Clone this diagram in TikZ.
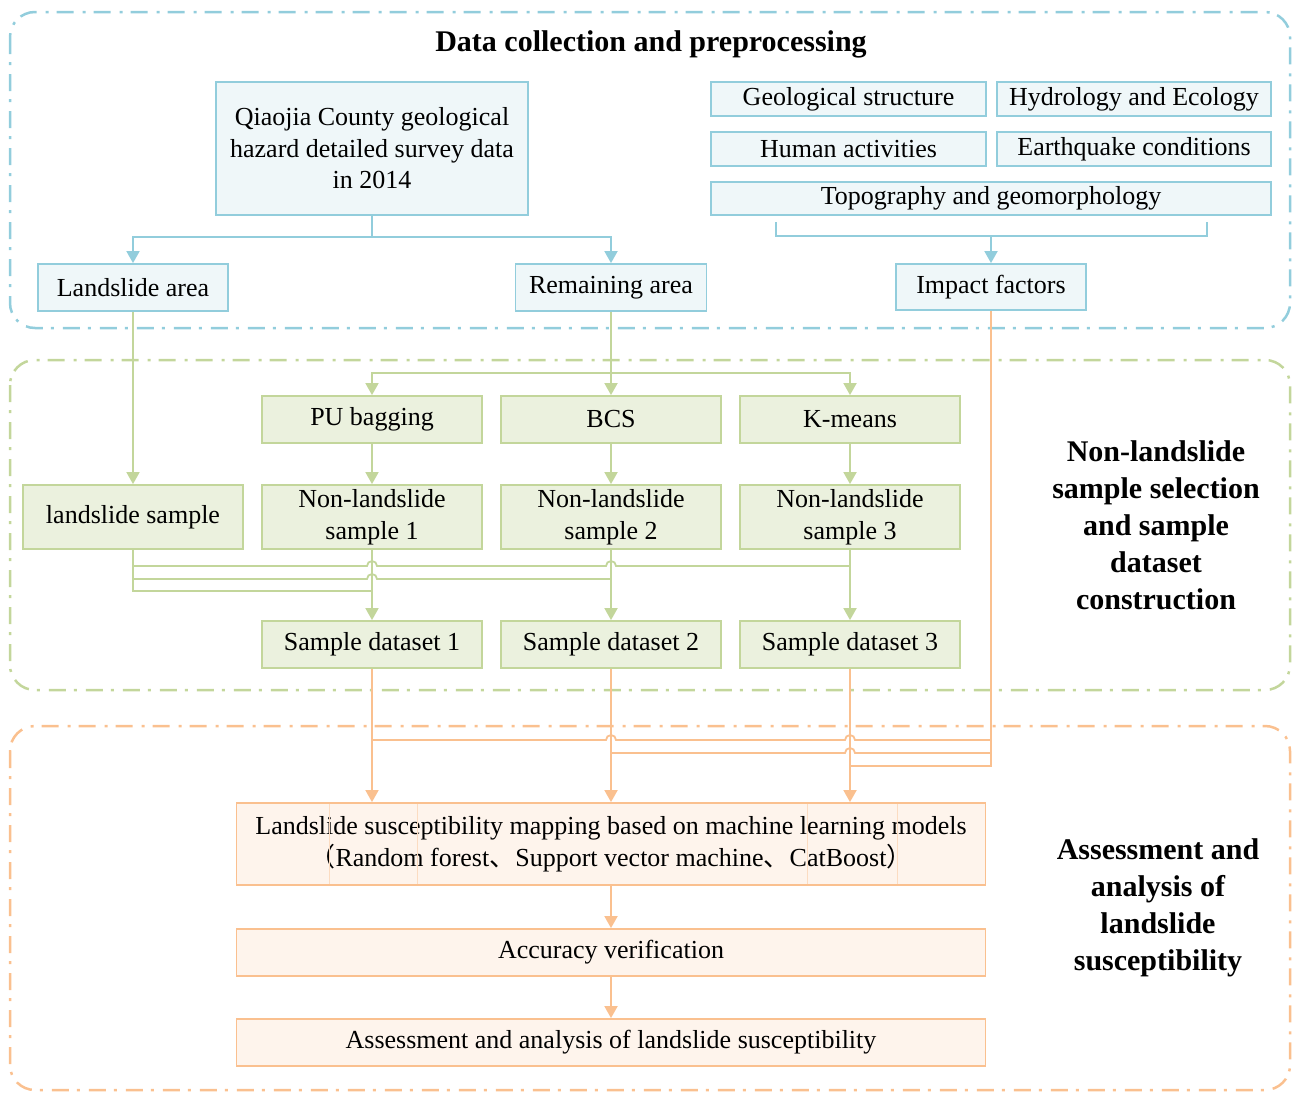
\documentclass[tikz,border=0pt]{standalone}
\usepackage{fontspec}
\setmainfont{Liberation Serif}
\newfontfamily\cjk{Noto Sans CJK SC}
\usepackage{tikz}
\usetikzlibrary{arrows.meta}
\definecolor{bdraw}{RGB}{146,205,220}
\definecolor{bfill}{RGB}{239,247,249}
\definecolor{gdraw}{RGB}{195,214,155}
\definecolor{gfill}{RGB}{235,241,222}
\definecolor{odraw}{RGB}{250,192,143}
\definecolor{ofill}{RGB}{254,244,236}

\begin{document}
\begin{tikzpicture}[x=1pt, y=-1pt,
        box/.style={draw, line width=1.8pt, inner sep=0pt, align=center, font=\fontsize{26}{31.5}\selectfont},
        bbox/.style={box, draw=bdraw, fill=bfill},
        gbox/.style={box, draw=gdraw, fill=gfill},
        obox/.style={box, draw=odraw, fill=ofill},
        frame/.style={line width=2.5pt, rounded corners=25pt, dash pattern=on 17pt off 8pt on 3pt off 9pt},
        head/.style={font=\fontsize{30}{37}\selectfont\bfseries, align=center},
        tip/.style={-{Triangle[width=13pt,length=12pt]}},
        bline/.style={draw=bdraw, line width=1.8pt},
        gline/.style={draw=gdraw, line width=1.8pt},
        oline/.style={draw=odraw, line width=1.8pt}]
    \useasboundingbox (0,0) rectangle (1295,1092);

    \draw[frame, draw=bdraw] (10,12) rectangle (1290,328);
    \draw[frame, draw=gdraw] (10,360) rectangle (1290,690);
    \draw[frame, draw=odraw] (10,726) rectangle (1290,1090);

    \node[head] (title) at (651,44) {Data collection and preprocessing};
    \node[head] (selhead) at (1156,525) {Non-landslide\\sample selection\\and sample\\dataset\\construction};
    \node[head] (asshead) at (1158,908) {Assessment and\\analysis of\\landslide\\susceptibility};

    \node[bbox, minimum width=312pt, minimum height=133pt] (qiaojia) at (372,148.5) {Qiaojia County geological\\hazard detailed survey data\\in 2014};
    \node[bbox, minimum width=275pt, minimum height=34pt] (geo) at (848.5,99) {Geological structure};
    \node[bbox, minimum width=274pt, minimum height=34pt] (hydro) at (1134,99) {Hydrology and Ecology};
    \node[bbox, minimum width=275pt, minimum height=34pt] (human) at (848.5,149) {Human activities};
    \node[bbox, minimum width=274pt, minimum height=34pt] (quake) at (1134,149) {Earthquake conditions};
    \node[bbox, minimum width=560pt, minimum height=33pt] (topo) at (991,198.5) {Topography and geomorphology};
    \node[bbox, minimum width=190pt, minimum height=47pt] (lsarea) at (133,287.5) {Landslide area};
    \node[bbox, minimum width=191pt, minimum height=47pt] (remarea) at (611,287.5) {Remaining area};
    \node[bbox, minimum width=190pt, minimum height=46pt] (impact) at (991,287) {Impact factors};

    \node[gbox, minimum width=220pt, minimum height=47pt] (pubag) at (372,419.5) {PU bagging};
    \node[gbox, minimum width=220pt, minimum height=47pt] (bcs) at (611,419.5) {BCS};
    \node[gbox, minimum width=220pt, minimum height=47pt] (kmeans) at (850,419.5) {K-means};
    \node[gbox, minimum width=220pt, minimum height=64pt] (lssample) at (133,517) {landslide sample};
    \node[gbox, minimum width=220pt, minimum height=64pt] (nls1) at (372,517) {Non-landslide\\sample 1};
    \node[gbox, minimum width=220pt, minimum height=64pt] (nls2) at (611,517) {Non-landslide\\sample 2};
    \node[gbox, minimum width=220pt, minimum height=64pt] (nls3) at (850,517) {Non-landslide\\sample 3};
    \node[gbox, minimum width=220pt, minimum height=47pt] (sds1) at (372,644.5) {Sample dataset 1};
    \node[gbox, minimum width=220pt, minimum height=47pt] (sds2) at (611,644.5) {Sample dataset 2};
    \node[gbox, minimum width=220pt, minimum height=47pt] (sds3) at (850,644.5) {Sample dataset 3};

    \node[obox, minimum width=749pt, minimum height=82pt] (lsm) at (611,844) {Landslide susceptibility mapping based on machine learning models\\{\cjk （}Random forest{\cjk 、}Support vector machine{\cjk 、}CatBoost{\cjk ）}};
    \node[obox, minimum width=749pt, minimum height=47pt] (accuracy) at (611,952.5) {Accuracy verification};
    \node[obox, minimum width=749pt, minimum height=47pt] (assess) at (611,1042.5) {Assessment and analysis of landslide susceptibility};
    \foreach \sx in {329,417,807,897}
        \draw[draw=odraw!55, line width=0.8pt] (\sx,804) -- (\sx,884);

    \draw[bline, tip] (qiaojia.south) -- ++(0,21) -| (lsarea.north);
    \draw[bline, tip] (qiaojia.south) -- ++(0,21) -| (remarea.north);
    \draw[bline] (776,222) -- (776,236) -- (1207,236) -- (1207,222);
    \draw[bline, tip] (impact.north |- 0,236) -- (impact.north);

    \draw[gline, tip] (lsarea.south) -- (lssample.north);
    \draw[gline, tip] (remarea.south) -- (bcs.north);
    \draw[gline, tip] (remarea.south |- 0,373) -| (pubag.north);
    \draw[gline, tip] (remarea.south |- 0,373) -| (kmeans.north);
    \draw[gline, tip] (pubag) -- (nls1);
    \draw[gline, tip] (bcs) -- (nls2);
    \draw[gline, tip] (kmeans) -- (nls3);
    \draw[gline, tip] (nls1) -- (sds1);
    \draw[gline, tip] (nls2) -- (sds2);
    \draw[gline, tip] (nls3) -- (sds3);
    \draw[gline] (lssample.south) -- (lssample.south |- 0,591) -- (nls1.south |- 0,591);
    \draw[gline] (lssample.south |- 0,579) -- (367,579) arc[start angle=180, end angle=0, radius=5pt] -- (nls2.south |- 0,579);
    \draw[gline] (lssample.south |- 0,566) -- (367,566) arc[start angle=180, end angle=0, radius=5pt]
        -- (606,566) arc[start angle=180, end angle=0, radius=5pt] -- (nls3.south |- 0,566);

    \draw[oline, tip] (sds1) -- (sds1.south |- lsm.north);
    \draw[oline, tip] (sds2) -- (sds2.south |- lsm.north);
    \draw[oline, tip] (sds3) -- (sds3.south |- lsm.north);
    \draw[oline] (impact.south) -- (impact.south |- 0,766) -- (sds3.south |- 0,766);
    \draw[oline] (impact.south |- 0,753) -- (855,753) arc[start angle=0, end angle=180, radius=5pt] -- (sds2.south |- 0,753);
    \draw[oline] (impact.south |- 0,740) -- (855,740) arc[start angle=0, end angle=180, radius=5pt]
        -- (616,740) arc[start angle=0, end angle=180, radius=5pt] -- (sds1.south |- 0,740);
    \draw[oline, tip] (lsm) -- (accuracy);
    \draw[oline, tip] (accuracy) -- (assess);
\end{tikzpicture}
\end{document}
